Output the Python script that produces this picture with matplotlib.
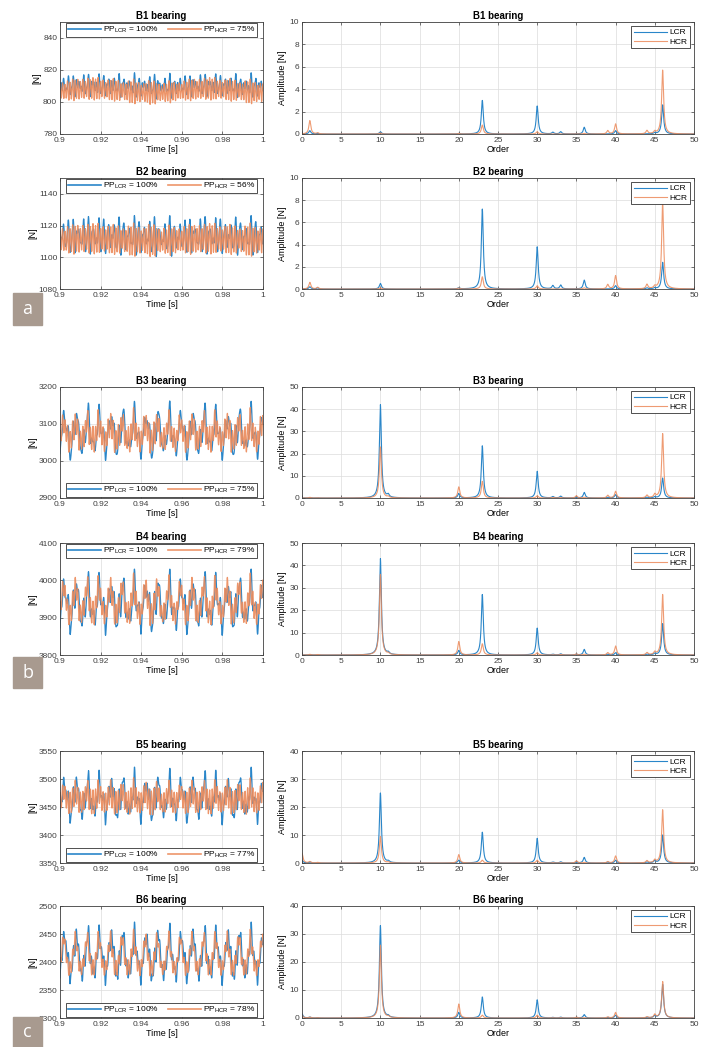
import numpy as np
import matplotlib
matplotlib.use('Agg')
import matplotlib.pyplot as plt
from matplotlib.patches import Rectangle

plt.rcParams['font.family'] = ['Liberation Sans', 'DejaVu Sans']
plt.rcParams['mathtext.default'] = 'regular'

# Harmonic orders present in the order spectra
orders = [0, 1, 2, 10, 11, 20, 23, 30, 32, 33, 35, 36, 39, 40, 44, 45, 46]

# Peak amplitudes [N] (LCR / HCR) for each bearing
b1_lcr = [0, 0.3, 0.05, 0.2, 0, 0.05, 3.0, 2.5, 0.15, 0.2, 0, 0.6, 0, 0.3, 0, 0.1, 2.6]
b1_hcr = [0, 1.2, 0.1, 0.1, 0, 0.05, 0.8, 0.2, 0, 0, 0, 0.05, 0.3, 0.9, 0.3, 0.2, 5.7]
b2_lcr = [0, 0.2, 0.1, 0.5, 0, 0.1, 7.2, 3.8, 0.3, 0.35, 0, 0.8, 0, 0.3, 0.1, 0.1, 2.4]
b2_hcr = [0, 0.6, 0.15, 0.1, 0, 0.1, 1.1, 0.3, 0, 0, 0, 0.1, 0.4, 1.2, 0.4, 0.2, 7.8]
b3_lcr = [0, 0.2, 0.1, 42, 1.2, 2, 23.5, 12, 0.6, 0.8, 0.3, 2.5, 0.3, 1.5, 0.3, 0.5, 9]
b3_hcr = [0, 0.3, 0.1, 23, 0.5, 5, 7.5, 1, 0.2, 0.2, 1, 0.3, 1.2, 3, 1.2, 1.5, 29]
b4_lcr = [0, 0.2, 0.1, 43, 0.8, 2, 27, 12, 0.3, 0.5, 0.3, 2.5, 0.3, 1, 0.3, 0.6, 14]
b4_hcr = [0, 0.3, 0.2, 36, 0.5, 6, 5, 1, 0.1, 0.2, 0.5, 0.3, 1, 4, 1, 1.2, 27]
b5_lcr = [1, 0.3, 0.1, 25, 0.5, 1, 11, 8.8, 0.3, 0.4, 0.3, 2, 0.3, 1, 0.3, 0.8, 10]
b5_hcr = [3.5, 0.5, 0.2, 9.5, 0.3, 3, 1, 1, 0.1, 0.1, 0.8, 0.2, 0.5, 2.5, 0.8, 1, 19]
b6_lcr = [1.5, 0.3, 0.1, 33, 0.5, 2, 7.5, 6.5, 0.2, 0.3, 0.2, 1.2, 0.2, 1, 0.2, 0.8, 12]
b6_hcr = [1, 0.3, 0.1, 26, 0.4, 5, 1, 1, 0.1, 0.1, 0.3, 0.1, 0.4, 2, 0.4, 1.2, 13]

# Mean force levels [N] of the time signals
mean_lcr = [810, 1113, 3075, 3935, 3465, 2410]
mean_hcr = [807, 1111, 3075, 3940, 3465, 2410]

# Phase of each harmonic (rad)
phases = [0, 0.3, 1.1, 0.0, 2.0, 0.0, 1.5, 0.0, 0.4, 1.9, 3.0, 0.9, 2.2, 0.0, 0.5, 2.8, 1.7]

names = ['B1', 'B2', 'B3', 'B4', 'B5', 'B6']
hcr_pp = ['75%', '56%', '75%', '79%', '77%', '78%']
time_ylim = [(780, 850), (1080, 1150), (2900, 3200), (3800, 4100), (3350, 3550), (2300, 2500)]
time_yticks = [[780, 800, 820, 840], [1080, 1100, 1120, 1140],
               [2900, 3000, 3100, 3200], [3800, 3900, 4000, 4100],
               [3350, 3400, 3450, 3500, 3550], [2300, 2350, 2400, 2450, 2500]]
spec_ymax = [10, 10, 50, 50, 40, 40]
spec_ystep = [2, 2, 10, 10, 10, 10]
legend_top = [True, True, False, True, False, False]

lcr_amps = [b1_lcr, b2_lcr, b3_lcr, b4_lcr, b5_lcr, b6_lcr]
hcr_amps = [b1_hcr, b2_hcr, b3_hcr, b4_hcr, b5_hcr, b6_hcr]

f_shaft = 17.4  # Hz
t = np.arange(0.9, 1.00001, 1 / 20000)
order_axis = np.arange(0, 50.001, 0.01)
gamma = 0.15

blue = '#2a86c9'
orange = '#ec8a5a'

W, H = 703, 1047
fig = plt.figure(figsize=(W / 100, H / 100), dpi=100)

# pixel rows (top, bottom) of each pair of panels
rows = [(22, 134), (178, 289), (387, 498), (543, 655), (751, 863), (906, 1018)]


def px_axes(x0, x1, y0, y1):
    return fig.add_axes([x0 / W, 1 - y1 / H, (x1 - x0) / W, (y1 - y0) / H])


def time_signal(mean, amps, shift):
    sig = np.full_like(t, float(mean))
    for o, a, p in zip(orders, amps, phases):
        if o > 0:
            sig += a * np.cos(2 * np.pi * o * f_shaft * t + p + shift * o / 10)
    return sig


def spectrum(amps):
    spec = np.zeros_like(order_axis)
    for o, a in zip(orders, amps):
        spec += a / (1 + ((order_axis - o) / gamma) ** 2)
    return spec


def style(ax):
    ax.grid(True, color='#dcdcdc', linewidth=0.5)
    ax.set_axisbelow(True)
    ax.tick_params(direction='in', length=2, width=0.5, labelsize=6, top=True, right=True,
                   pad=2, colors='#404040')
    for s in ax.spines.values():
        s.set_linewidth(0.6)
        s.set_color('#404040')


for i in range(6):
    y0, y1 = rows[i]

    # time signal panel
    ax = px_axes(60, 263, y0, y1)
    ax.plot(t, time_signal(mean_lcr[i], lcr_amps[i], 0.0), color=blue, lw=0.9,
            label=r'PP$_{LCR}$ = 100%')
    ax.plot(t, time_signal(mean_hcr[i], hcr_amps[i], 0.5), color=orange, lw=0.9, alpha=0.9,
            label=r'PP$_{HCR}$ = ' + hcr_pp[i])
    ax.set_xlim(0.9, 1.0)
    ax.set_ylim(*time_ylim[i])
    ax.set_xticks([0.9, 0.92, 0.94, 0.96, 0.98, 1.0])
    ax.set_xticklabels(['0.9', '0.92', '0.94', '0.96', '0.98', '1'])
    ax.set_yticks(time_yticks[i])
    style(ax)
    ax.set_title(names[i] + ' bearing', fontsize=7, fontweight='bold', pad=2)
    ax.set_xlabel('Time [s]', fontsize=6.5, labelpad=1)
    ax.set_ylabel('[N]', fontsize=6.5, labelpad=1)
    leg = ax.legend(loc='upper center' if legend_top[i] else 'lower center', ncol=2,
                    fontsize=6, handlelength=4, columnspacing=1.0, borderaxespad=0.15,
                    fancybox=False, framealpha=1, borderpad=0.2, handletextpad=0.3)
    leg.get_frame().set_edgecolor('#333333')
    leg.get_frame().set_linewidth(0.6)
    for line in leg.get_lines():
        line.set_linewidth(1.2)

    # order spectrum panel
    ax = px_axes(302, 694, y0, y1)
    ax.plot(order_axis, spectrum(lcr_amps[i]), color=blue, lw=0.8, label='LCR')
    ax.plot(order_axis, spectrum(hcr_amps[i]), color=orange, lw=0.8, alpha=0.85, label='HCR')
    ax.set_xlim(0, 50)
    ax.set_ylim(0, spec_ymax[i])
    ax.set_xticks(range(0, 51, 5))
    ax.set_yticks(range(0, spec_ymax[i] + 1, spec_ystep[i]))
    style(ax)
    ax.set_title(names[i] + ' bearing', fontsize=7, fontweight='bold', pad=2)
    ax.set_xlabel('Order', fontsize=6.5, labelpad=1)
    ax.set_ylabel('Amplitude [N]', fontsize=6.5, labelpad=2)
    leg = ax.legend(loc='upper right', fontsize=6, handlelength=4, borderaxespad=0.5,
                    fancybox=False, framealpha=1, borderpad=0.3, handletextpad=0.3,
                    labelspacing=0.15)
    leg.get_frame().set_edgecolor('#333333')
    leg.get_frame().set_linewidth(0.6)

# panel letters a, b, c
for letter, (bx0, by0, by1) in zip(['a', 'b', 'c'], [(13, 293, 325), (13, 657, 688), (13, 1017, 1047)]):
    fig.patches.append(Rectangle((bx0 / W, 1 - by1 / H), 29 / W, (by1 - by0) / H,
                                 transform=fig.transFigure, color='#a89a8f', zorder=5))
    fig.text((bx0 + 14.5) / W, 1 - (by0 + by1) / 2 / H, letter, color='white', fontsize=13,
             ha='center', va='center', zorder=6, family='Open Sans')

fig.savefig('out.png', dpi=100)
